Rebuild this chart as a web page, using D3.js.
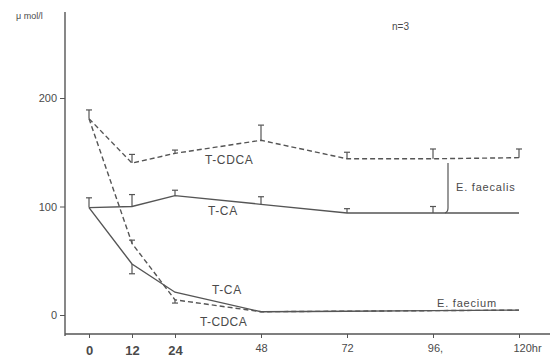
<!DOCTYPE html>
<html>
<head>
<meta charset="utf-8">
<script src="https://cdn.jsdelivr.net/npm/d3@7"></script>
<style>
  body { margin: 0; background: #fff; }
  svg { display: block; }
  text { font-family: "Liberation Sans", Arial, sans-serif; fill: #4a4a4a; }
</style>
</head>
<body>
<svg id="chart" width="556" height="359"></svg>
<script>
// hours after inoculation
var hours = [0, 12, 24, 48, 72, 96, 120];
var tickLabels = ["0", "12", "24", "48", "72", "96,", "120hr"];
var yTicks = [0, 100, 200];

// E. faecalis (upper pair)
var faecalisCDCA    = [181, 140, 149, 161, 144, 144, 145];
var faecalisCDCAErr = [8, 8, 3, 14, 6, 9, 8];
var faecalisCA      = [99, 100, 110, 102, 94, 94, 94];
var faecalisCAErr   = [9, 11, 5, 7, 4, 6, 0];

// E. faecium (lower pair), negative error = bar drawn downward
var faeciumCA      = [99, 47, 21, 3, 3.5, 4, 4.5];
var faeciumCAErr   = [0, -9, 0, 0, 0, 0, 0];
var faeciumCDCA    = [181, 66, 14, 3, 3.5, 4, 4.5];
var faeciumCDCAErr = [0, 3, -3, 0, 0, 0, 0];

var svg = d3.select("#chart");
var ink = "#555";

var x = d3.scaleLinear().domain([0, 120]).range([89, 519]);
var y = d3.scaleLinear().domain([0, 200]).range([315, 98]);

// axis lines
svg.append("line")
    .attr("x1", 65).attr("x2", 65).attr("y1", 12).attr("y2", 336)
    .attr("stroke", ink).attr("stroke-width", 1.4);
svg.append("line")
    .attr("x1", 65).attr("x2", 550).attr("y1", 334).attr("y2", 334)
    .attr("stroke", ink).attr("stroke-width", 1.4);

// y axis ticks
var yAxis = svg.append("g")
    .attr("transform", "translate(65,0)")
    .call(d3.axisLeft(y).tickValues(yTicks).tickSize(5).tickPadding(3));
yAxis.select(".domain").remove();
yAxis.selectAll("line").attr("stroke", ink);
yAxis.selectAll("text")
    .style("font-family", "Liberation Sans, Arial, sans-serif")
    .style("font-size", "11px").attr("fill", "#555");

// x axis ticks
var xAxis = svg.append("g")
    .attr("transform", "translate(0,334)")
    .call(d3.axisBottom(x).tickValues(hours).tickSize(4).tickPadding(7)
        .tickFormat(function (d, i) { return tickLabels[i]; }));
xAxis.select(".domain").remove();
xAxis.selectAll("line").attr("stroke", ink);
xAxis.selectAll("text")
    .style("font-family", function (d) { return d <= 24 ? "Liberation Sans Narrow, Arial Narrow, sans-serif" : "Liberation Sans, Arial, sans-serif"; })
    .style("font-size", function (d) { return d <= 24 ? "13px" : "11px"; })
    .style("font-weight", function (d) { return d <= 24 ? "bold" : "normal"; })
    .attr("fill", function (d) { return d <= 24 ? "#111" : "#555"; })
    .attr("dx", function (d) { return d == 120 ? "8" : d == 96 ? "2" : "0"; })
    .attr("y", function (d) { return d <= 24 ? 12 : 10; });

// lines
var line = d3.line()
    .x(function (d) { return x(d[0]); })
    .y(function (d) { return y(d[1]); });

function series(values, errs, dashed) {
    var pts = hours.map(function (h, i) { return [h, values[i]]; });
    svg.append("path")
        .datum(pts)
        .attr("d", line)
        .attr("fill", "none")
        .attr("stroke", ink)
        .attr("stroke-width", 1.4)
        .attr("stroke-dasharray", dashed ? "5,3" : null);

    var bars = svg.append("g");
    pts.forEach(function (p, i) {
        var e = errs[i];
        if (!e) return;
        var cx = x(p[0]), y0 = y(p[1]), y1 = y(p[1] + e);
        bars.append("line")
            .attr("x1", cx).attr("x2", cx).attr("y1", y0).attr("y2", y1)
            .attr("stroke", ink).attr("stroke-width", 1.2);
        bars.append("line")
            .attr("x1", cx - 3).attr("x2", cx + 3).attr("y1", y1).attr("y2", y1)
            .attr("stroke", ink).attr("stroke-width", 1.2);
    });
}

series(faecalisCDCA, faecalisCDCAErr, true);
series(faecalisCA, faecalisCAErr, false);
series(faeciumCDCA, faeciumCDCAErr, true);
series(faeciumCA, faeciumCAErr, false);

// bracket for E. faecalis
svg.append("path")
    .attr("d", "M448,163 L448,208 Q448,212 445,213")
    .attr("fill", "none").attr("stroke", ink).attr("stroke-width", 1.2);

// labels
function label(t, lx, ly, size, spacing) {
    svg.append("text")
        .attr("x", lx).attr("y", ly)
        .style("font-size", size + "px")
        .style("letter-spacing", (spacing || 0) + "px")
        .text(t);
}

label("\u03bc mol/l", 16, 19, 9, 0);
label("n=3", 392, 30, 10, 0);
label("T-CDCA", 205, 164, 12, 0.6);
label("T-CA", 208, 215, 12, 0.6);
label("T-CA", 212, 294, 12, 0.6);
label("T-CDCA", 200, 326, 12, 0.4);
label("E. faecium", 437, 307, 11, 0.8);
label("E. faecalis", 456, 191, 11, 0.8);
</script>
</body>
</html>
